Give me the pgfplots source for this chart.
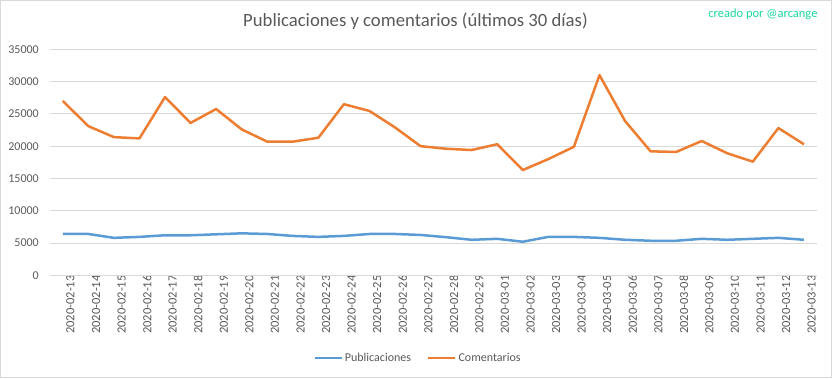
\documentclass[border=0pt]{standalone}
\usepackage{pgfplots}
\pgfplotsset{compat=1.18}
\usepackage{fontspec}
\setmainfont{Carlito}
\definecolor{pubblue}{HTML}{5B9BD5}
\definecolor{comorange}{HTML}{ED7D31}
\definecolor{txtgray}{HTML}{595959}
\definecolor{gridgray}{HTML}{D9D9D9}
\definecolor{wmark}{RGB}{30,214,160}
\begin{document}
\begin{tikzpicture}[x=1pt,y=1pt]
\useasboundingbox (0,0) rectangle (832,378);
\draw[gridgray, line width=1pt] (0.5,0.5) rectangle (831.5,377.5);
\begin{axis}[
  at={(50pt,102.7pt)}, anchor=south west,
  width=766.7pt, height=226pt, scale only axis,
  xmin=-0.5, xmax=29.5, ymin=0, ymax=35000,
  ytick={0,5000,...,35000},
  xtick={0,...,29},
  xticklabels={2020-02-13,2020-02-14,2020-02-15,2020-02-16,2020-02-17,2020-02-18,2020-02-19,2020-02-20,2020-02-21,2020-02-22,2020-02-23,2020-02-24,2020-02-25,2020-02-26,2020-02-27,2020-02-28,2020-02-29,2020-03-01,2020-03-02,2020-03-03,2020-03-04,2020-03-05,2020-03-06,2020-03-07,2020-03-08,2020-03-09,2020-03-10,2020-03-11,2020-03-12,2020-03-13},
  /pgf/number format/assume math mode=true,
  scaled y ticks=false,
  yticklabel style={font=\fontsize{12}{14}\selectfont, text=txtgray, inner sep=0pt, xshift=-11pt, /pgf/number format/.cd, fixed, set thousands separator={}},
  xticklabel style={font=\fontsize{12.5}{14}\selectfont, text=txtgray, rotate=90, anchor=east, inner sep=0pt, yshift=-7.7pt},
  major tick length=0pt,
  axis line style={draw=none},
  ymajorgrids, grid style={gridgray, line width=1pt},
  extra y ticks={0}, extra y tick labels={},
  extra y tick style={grid=major},
  legend columns=2,
  legend style={at={(0.48,-0.366)}, anchor=center, draw=none, fill=none,
    font=\fontsize{12}{14}\selectfont, text=txtgray,
    /tikz/every even column/.append style={column sep=14pt}},
  legend image code/.code={\draw[#1] (0pt,0pt) -- (27pt,0pt);},
  clip=false,
]
\addplot[pubblue, line width=2.5pt, line join=round] coordinates {
(0,6400)(1,6400)(2,5800)(3,5950)(4,6200)(5,6200)(6,6350)(7,6500)(8,6400)(9,6100)
(10,5950)(11,6100)(12,6400)(13,6400)(14,6250)(15,5900)(16,5500)(17,5650)(18,5200)(19,5950)
(20,5950)(21,5800)(22,5500)(23,5350)(24,5350)(25,5650)(26,5500)(27,5650)(28,5800)(29,5500)};
\addlegendentry{Publicaciones}
\addplot[comorange, line width=2.5pt, line join=round] coordinates {
(0,27000)(1,23100)(2,21400)(3,21200)(4,27600)(5,23600)(6,25750)(7,22600)(8,20700)(9,20700)
(10,21300)(11,26500)(12,25450)(13,22900)(14,20000)(15,19600)(16,19400)(17,20300)(18,16300)(19,18000)
(20,19900)(21,31000)(22,23900)(23,19200)(24,19100)(25,20800)(26,18900)(27,17600)(28,22800)(29,20300)};
\addlegendentry{Comentarios}
\end{axis}
\node[text=txtgray, font=\fontsize{18.7}{22}\selectfont] at (415.5,357) {Publicaciones y comentarios (últimos 30 días)};
\node[text=wmark, font=\fontsize{12.5}{14}\selectfont, anchor=east] at (821,364) {creado por @arcange};
\end{tikzpicture}
\end{document}
